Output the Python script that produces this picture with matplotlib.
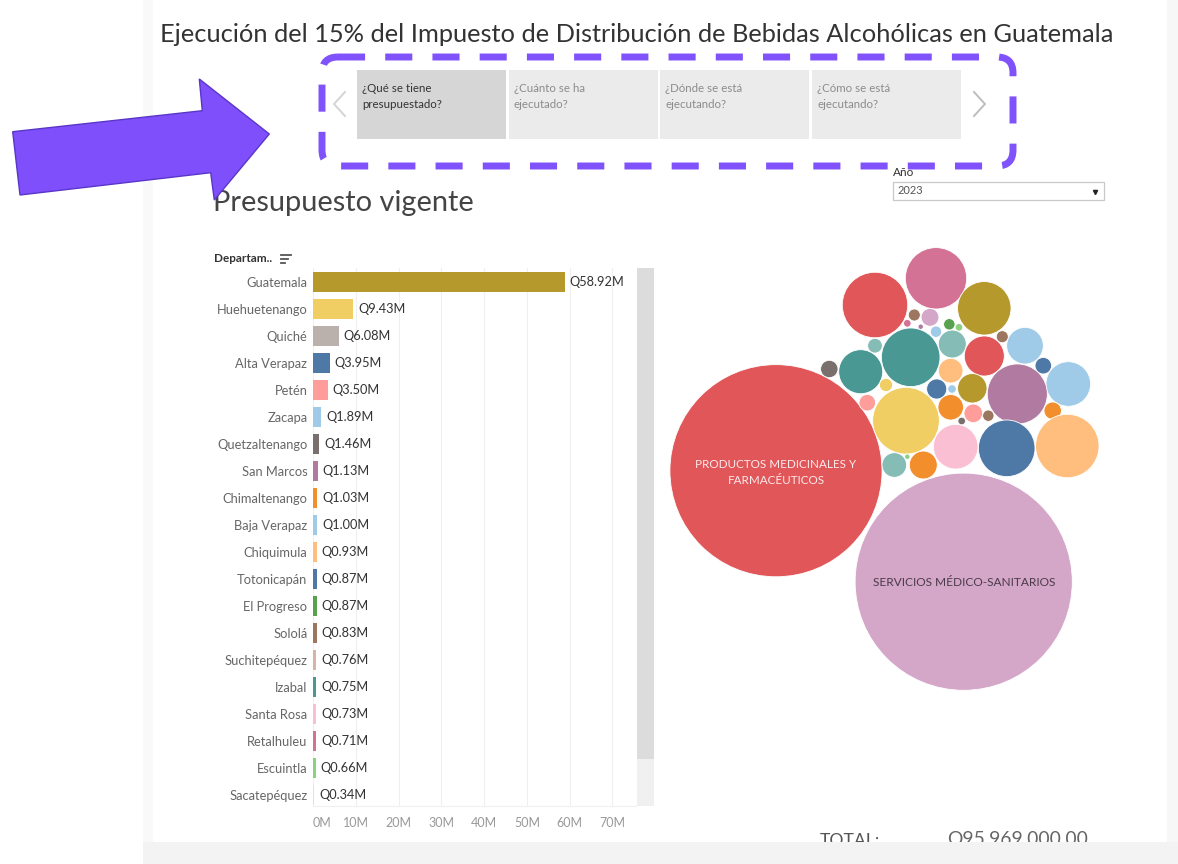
import matplotlib
matplotlib.use("Agg")
import numpy as np
import matplotlib.pyplot as plt
from matplotlib.patches import Rectangle, Circle, Polygon, FancyBboxPatch

plt.rcParams["font.family"] = ["Lato", "DejaVu Sans"]

# ─── data ────────────────────────────────────────────────────────────
titulo = "Ejecución del 15% del Impuesto de Distribución de Bebidas Alcohólicas en Guatemala"
pestanas = [("¿Qué se tiene", "presupuestado?"), ("¿Cuánto se ha", "ejecutado?"),
            ("¿Dónde se está", "ejecutando?"), ("¿Cómo se está", "ejecutando?")]
anio = "2023"

departamentos = ["Guatemala", "Huehuetenango", "Quiché", "Alta Verapaz", "Petén",
                 "Zacapa", "Quetzaltenango", "San Marcos", "Chimaltenango",
                 "Baja Verapaz", "Chiquimula", "Totonicapán", "El Progreso", "Sololá",
                 "Suchitepéquez", "Izabal", "Santa Rosa", "Retalhuleu", "Escuintla",
                 "Sacatepéquez"]
presupuesto_m = [58.92, 9.43, 6.08, 3.95, 3.50, 1.89, 1.46, 1.13, 1.03, 1.00,
                 0.93, 0.87, 0.87, 0.83, 0.76, 0.75, 0.73, 0.71, 0.66, 0.34]
colores_depto = ["#B6992D", "#F1CE63", "#BAB0AC", "#4E79A7", "#FF9D9A",
                 "#A0CBE8", "#79706E", "#B07AA1", "#F28E2B", "#A0CBE8",
                 "#FFBE7D", "#4E79A7", "#59A14F", "#9D7660", "#D7B5A6",
                 "#499894", "#FABFD2", "#D37295", "#8CD17D", "#E8E0DC"]
ticks_m = [0, 10, 20, 30, 40, 50, 60, 70]

# renglones (bubbles), value in millions of Q
renglon_valor_m = [31.17, 32.66, 2.61, 2.97, 1.98, 2.38, 1.34, 0.21, 0.15, 0.54,
                   1.11, 0.93, 0.19, 1.38, 2.50, 0.21, 2.79, 2.22, 1.38, 3.08,
                   0.42, 0.28, 0.05, 0.60, 0.45, 0.24, 0.09, 0.04, 0.12, 0.19,
                   0.42, 0.54, 0.02, 0.22, 0.10, 0.04, 0.02, 0.09, 0.09, 0.04, 0.10]
renglon_color = ["#E15759", "#D4A6C8", "#D37295", "#E15759", "#B6992D", "#499894",
                 "#499894", "#79706E", "#86BCB6", "#86BCB6", "#E15759", "#A0CBE8",
                 "#4E79A7", "#A0CBE8", "#B07AA1", "#F28E2B", "#FFBE7D", "#4E79A7",
                 "#FABFD2", "#F1CE63", "#FFBE7D", "#4E79A7", "#A0CBE8", "#B6992D",
                 "#F28E2B", "#FF9D9A", "#9D7660", "#79706E", "#F1CE63", "#FF9D9A",
                 "#86BCB6", "#F28E2B", "#8CD17D", "#D4A6C8", "#9D7660", "#D37295",
                 "#B07AA1", "#A0CBE8", "#59A14F", "#8CD17D", "#9D7660"]
total_txt = "Q95,969,000.00"

# packed-bubble layout (pixel centres as laid out by the dashboard)
bub_x = [776, 963.7, 936, 875, 984.3, 910.7, 860.7, 829.3, 875, 952.3, 984.3, 1025,
         1043.3, 1068.3, 1017.3, 1052.7, 1067.3, 1006.7, 955.7, 906, 950.7, 936.7,
         952, 972.3, 950.7, 973.3, 988.3, 961.7, 886, 867.3, 894.3, 923.3, 907.3,
         930, 914.3, 907.3, 920.7, 936, 949.3, 959, 1002.3]
bub_y = [470.7, 581.7, 278.3, 305, 308.3, 357.3, 371.7, 369, 345.7, 344, 356, 345.7,
         365.7, 384, 394, 410.7, 446, 448.3, 446.7, 420.7, 370.7, 389, 389, 388.3,
         407.3, 413.3, 415.7, 421, 385, 402.7, 465, 465, 456.7, 317.3, 315, 323.3,
         326.7, 331.7, 324.3, 327.3, 336.7]
PX_PER_SQRT_M = 19.0

# ─── canvas (pixel coords) ───────────────────────────────────────────
W, H = 1178, 864
fig = plt.figure(figsize=(W / 100, H / 100), dpi=100)
ax = fig.add_axes([0, 0, 1, 1])
ax.set_xlim(0, W)
ax.set_ylim(H, 0)
ax.axis("off")
renderer = fig.canvas.get_renderer()


def fit(t, width_px):
    w = t.get_window_extent(renderer).width
    t.set_fontsize(t.get_fontsize() * width_px / w)
    return t


# dashboard frame
ax.add_patch(Rectangle((143, 0), 10, H, fc="#f9f9f9", ec="none"))
ax.add_patch(Rectangle((1167, 0), W - 1167, H, fc="#f7f7f7", ec="none"))

fit(ax.text(160, 34, titulo, color="#333333", va="center", fontsize=18), 952)

# tabs
tab_x = [357, 509, 660, 812]
for i, (x0, (l1, l2)) in enumerate(zip(tab_x, pestanas)):
    ax.add_patch(Rectangle((x0, 70), 149, 69, fc="#d6d6d6" if i == 0 else "#ebebeb", ec="none"))
    c = "#333333" if i == 0 else "#8c8c8c"
    ax.text(x0 + 5, 88, l1, fontsize=8.3, color=c, va="center")
    ax.text(x0 + 5, 104, l2, fontsize=8.3, color=c, va="center")
ax.plot([345, 334, 345], [92, 104, 116], color="#d4d4d4", lw=1.4)
ax.plot([974, 985, 974], [92, 104, 116], color="#bdbdbd", lw=1.4)

# year filter
ax.text(893, 172, "Año", fontsize=8.5, color="#333333", va="center")
ax.add_patch(Rectangle((893, 182), 211, 18, fc="white", ec="#c8c8c8", lw=0.9))
ax.text(898, 191, anio, fontsize=8, color="#555555", va="center")
ax.plot([1095], [191.5], marker="v", ms=3, color="#222222")

# purple annotation: dashed box + block arrow
ax.add_patch(FancyBboxPatch((322, 57), 691, 109, boxstyle="round,pad=0,rounding_size=16",
                            fill=False, ec="#8052fb", lw=5, ls=(0, (3.9, 2.9)), zorder=5))
ax.add_patch(Polygon([(12.7, 131.7), (202.3, 110.7), (199.3, 79), (269.3, 134),
                      (214.3, 200), (210.7, 172.7), (20, 195)],
                     closed=True, fc="#7f4ffb", ec="#5a36c8", lw=1, zorder=5))

fit(ax.text(213, 203, "Presupuesto vigente", color="#444444", va="center", fontsize=18), 261)

# bar header + sort icon
ax.text(214, 259, "Departam..", fontsize=8.5, color="#333333", weight="bold", va="center")
for k, ln in enumerate([10, 7, 4]):
    ax.plot([281, 281 + ln], [254.5 + 4 * k, 254.5 + 4 * k], color="#555555", lw=1.3)

# scrollbar
ax.add_patch(Rectangle((637, 268), 17, 491, fc="#dcdcdc", ec="none"))
ax.add_patch(Rectangle((637, 759), 17, 47, fc="#f0f0f0", ec="none"))

# bubbles
for cx, cy, v, c in zip(bub_x, bub_y, renglon_valor_m, renglon_color):
    ax.add_patch(Circle((cx, cy), PX_PER_SQRT_M * np.sqrt(v), fc=c, ec="white", lw=0.6))
t1 = fit(ax.text(776, 464, "PRODUCTOS MEDICINALES Y", color="#fdeaec", ha="center",
                 va="center", fontsize=9), 161)
ax.text(776, 481, "FARMACÉUTICOS", color="#fdeaec", ha="center", va="center",
        fontsize=t1.get_fontsize())
fit(ax.text(964, 583, "SERVICIOS MÉDICO-SANITARIOS", color="#4a3b4a", ha="center",
            va="center", fontsize=9), 182)

# total (cut by the bottom strip)
fit(ax.text(820, 833, "TOTAL:", color="#555555", va="top", fontsize=14), 60)
fit(ax.text(947, 831, total_txt, color="#666666", va="top", fontsize=14), 141)
ax.add_patch(Rectangle((143, 842), W - 143, H - 842, fc="#f3f3f3", ec="none", zorder=6))

# ─── bar chart ───────────────────────────────────────────────────────
PX_PER_M = (565 - 313) / 58.92
ROW = 27.0
x_left, x_right, y_top, y_bot = 313, 636, 268, 806
bx = fig.add_axes([x_left / W, 1 - y_bot / H, (x_right - x_left) / W, (y_bot - y_top) / H])
bx.set_facecolor("none")
rows = np.arange(len(departamentos))
bx.barh(rows, presupuesto_m, height=20 / ROW, color=colores_depto, zorder=3)
for r, v in zip(rows, presupuesto_m):
    bx.annotate(f"Q{v:.2f}M", (v, r), xytext=(3.5, 0), textcoords="offset points",
                va="center", fontsize=9.2, color="#333333")
bx.set_xlim(0, (x_right - x_left) / PX_PER_M)
bx.set_ylim((y_bot - 282) / ROW, -(282 - y_top) / ROW)
bx.set_yticks(rows, departamentos, fontsize=9.3, color="#666666")
bx.set_xticks(ticks_m, [f"{t}M" for t in ticks_m], fontsize=9, color="#999999")
bx.get_xticklabels()[0].set_ha("left")
bx.tick_params(length=0, pad=4)
bx.tick_params(axis="x", pad=8)
for s in bx.spines.values():
    s.set_visible(False)
bx.spines["bottom"].set_visible(True)
bx.spines["bottom"].set_color("#f0f0f0")
bx.grid(axis="x", color="#efefef", lw=0.8, zorder=0)

fig.savefig("out.png", dpi=100)
